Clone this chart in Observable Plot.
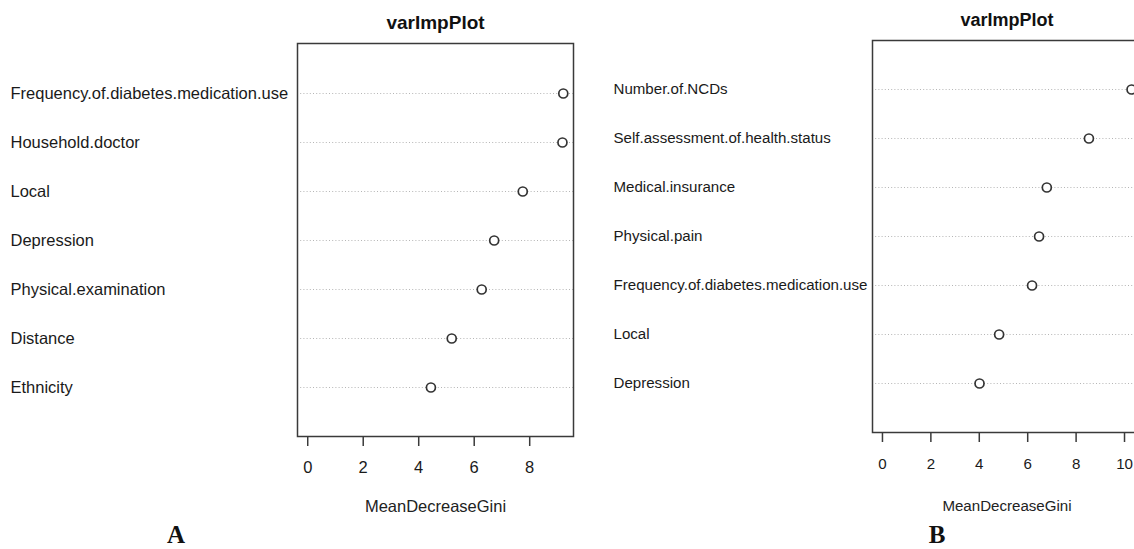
<!DOCTYPE html>
<html>
<head>
<meta charset="utf-8">
<script src="https://cdn.jsdelivr.net/npm/d3@7"></script>
<script src="https://cdn.jsdelivr.net/npm/@observablehq/plot@0.6"></script>
<style>
  html, body { margin: 0; padding: 0; background: #fff; overflow: hidden; }
  #wrap { position: relative; width: 1134px; height: 549px; overflow: hidden; background: #fff; }
  #wrap svg { position: absolute; top: 0; }
  .panel { position: absolute; font-family: "Liberation Serif", "Times New Roman", serif; font-weight: bold; font-size: 25px; line-height: 18px; height: 18px; color: #111; transform: translate(-50%, -50%); }
</style>
</head>
<body>
<div id="wrap"></div>
<script>
// Panel A
const varsA = ["Frequency.of.diabetes.medication.use", "Household.doctor", "Local", "Depression", "Physical.examination", "Distance", "Ethnicity"];
const valsA = [9.21, 9.18, 7.75, 6.72, 6.27, 5.19, 4.44];
const ticksA = [0, 2, 4, 6, 8];
// Panel B
const varsB = ["Number.of.NCDs", "Self.assessment.of.health.status", "Medical.insurance", "Physical.pain", "Frequency.of.diabetes.medication.use", "Local", "Depression"];
const valsB = [10.29, 8.53, 6.79, 6.47, 6.18, 4.82, 4.01];
const ticksB = [0, 2, 4, 6, 8, 10];
const title = "varImpPlot";
const xLabel = "MeanDecreaseGini";
const panelLabels = ["A", "B"];

function panel(vars, vals, ticks, o) {
  const data = vars.map((name, i) => ({name, value: vals[i]}));
  const mx = d3.max(vals);
  const pad = 0.04 * mx;
  return Plot.plot({
    width: o.width, height: 549,
    marginLeft: o.ml, marginRight: o.mr, marginTop: o.mt, marginBottom: 549 - o.bottom,
    style: {fontFamily: "'Liberation Sans', Arial, Helvetica, sans-serif", fontSize: o.fs + "px", background: "transparent", color: "#1a1a1a"},
    x: {domain: [-pad, mx + pad]},
    y: {type: "point", domain: vars, padding: 1},
    marks: [
      Plot.ruleY(vars, {stroke: "#b5b5b5", strokeWidth: 1, strokeDasharray: "1,2.2"}),
      Plot.frame({stroke: "#3a3a3a", strokeWidth: 1.5}),
      Plot.dot(data, {x: "value", y: "name", r: 4.5, stroke: "#333", strokeWidth: 1.7, fill: "white"}),
      Plot.axisX({ticks: ticks, tickSize: 10, tickPadding: o.tp, tickFormat: d => String(d), label: null, stroke: "#3a3a3a", strokeWidth: 1.5, fontSize: o.fs}),
      Plot.axisY({tickSize: 0, tickPadding: 0, textAnchor: "start", dx: -(o.ml - o.lx), label: null, fontSize: o.fs}),
      Plot.text([title], {frameAnchor: "top", lineAnchor: "middle", dy: o.td, fontWeight: "bold", fontSize: o.tfs, fill: "#111"}),
      Plot.text([xLabel], {frameAnchor: "bottom", lineAnchor: "middle", dy: o.xl, fontSize: o.fs, fill: "#222"})
    ]
  });
}

const wrap = document.getElementById("wrap");
const svgA = panel(varsA, valsA, ticksA, {width: 600, ml: 297, mr: 27, mt: 43, bottom: 436, fs: 16.5, tfs: 19, tp: 15, lx: 10, xl: 70, td: -21});
svgA.style.left = "0px";
wrap.appendChild(svgA);
const svgB = panel(varsB, valsB, ticksB, {width: 560, ml: 272, mr: 19, mt: 40, bottom: 432, fs: 15.1, tfs: 18, tp: 16, lx: 13, xl: 74, td: -20});
svgB.style.left = "600px";
wrap.appendChild(svgB);

const pos = [[176, 535], [937, 535]];
panelLabels.forEach((t, i) => {
  const d = document.createElement("div");
  d.className = "panel";
  d.textContent = t;
  d.style.left = pos[i][0] + "px";
  d.style.top = pos[i][1] + "px";
  wrap.appendChild(d);
});
</script>
</body>
</html>
